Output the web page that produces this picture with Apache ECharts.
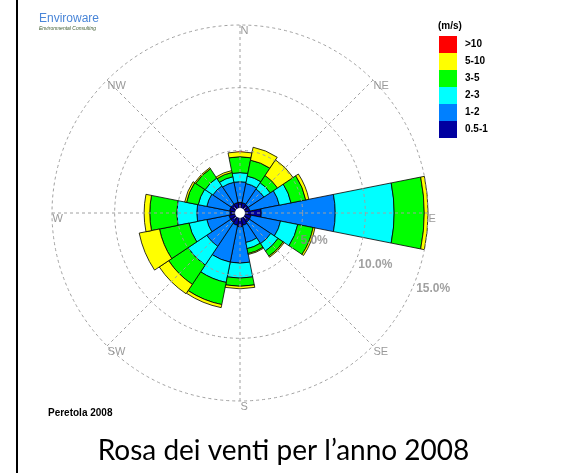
<!DOCTYPE html>
<html>
<head>
<meta charset="utf-8">
<script src="https://cdn.jsdelivr.net/npm/echarts@6/dist/echarts.min.js"></script>
<style>
html, body { margin: 0; padding: 0; background: #fff; }
#chart { width: 567px; height: 473px; }
#frame { position: absolute; left: 16px; top: 0; width: 2px; height: 473px; background: #000; }
</style>
</head>
<body>
<div id="chart"></div>
<div id="frame"></div>
<script>
// wind directions (clockwise from north) and speed classes
const directions = ['N','NNE','NE','ENE','E','ESE','SE','SSE','S','SSW','SW','WSW','W','WNW','NW','NNW'];
const compassLabels = ['N','NE','E','SE','S','SW','W','NW'];
const ringTicks = [5, 10, 15];
const speedClasses = ['0.5-1','1-2','2-3','3-5','5-10','>10'];

// frequency (%) per direction for each speed class
const speed05to1 = [0.85,0.84,0.80,0.80,1.70,0.90,0.90,1.00,1.10,1.00,0.90,0.90,0.80,0.85,0.85,0.85];
const speed1to2  = [1.65,1.56,1.50,2.40,5.90,2.40,2.05,1.40,2.90,3.00,2.30,1.80,2.65,1.85,1.75,1.65];
const speed2to3  = [0.72,0.60,0.60,0.95,4.70,1.40,0.70,0.50,1.20,1.65,1.80,1.45,1.60,0.70,0.75,0.45];
const speed3to5  = [1.27,1.30,0.70,1.20,2.40,1.25,0.50,0.40,0.65,1.80,1.85,2.40,2.15,0.95,0.90,0.35];
const speed5to10 = [0.40,1.05,1.50,0.25,0.30,0.15,0.10,0.08,0.20,0.25,0.90,1.65,0.45,0.15,0.10,0.15];
const speedOver10 = [0,0,0,0,0,0,0,0,0,0,0,0,0,0,0,0];

const classValues = [speed05to1, speed1to2, speed2to3, speed3to5, speed5to10, speedOver10];
const classColors = ['#0000a0','#0080ff','#00ffff','#00ff00','#ffff00','#ff0000'];

const grid = { color: '#a0a0a0', width: 1, type: [3, 3] };
const center = [240, 213];

const chart = echarts.init(document.getElementById('chart'));

const barSeries = speedClasses.map((name, i) => ({
  name: name,
  type: 'bar',
  coordinateSystem: 'polar',
  polarIndex: 0,
  stack: 'wind',
  barCategoryGap: '0%',
  data: classValues[i],
  itemStyle: { color: classColors[i], borderColor: '#000', borderWidth: i === 5 ? 0 : 0.8 },
  z: 2
}));

chart.setOption({
  animation: false,
  title: [
    { text: '(m/s)', left: 438, top: 21, padding: 0,
      textStyle: { fontSize: 10, fontWeight: 'bold', fontFamily: 'Arial', color: '#000' } },
    { text: 'Enviroware', subtext: 'Environmental Consulting', left: 39, top: 13, padding: 0, itemGap: 1,
      textStyle: { fontSize: 12, fontWeight: 'normal', fontFamily: 'Arial', color: '#4a86d8' },
      subtextStyle: { fontSize: 5, fontStyle: 'italic', fontFamily: 'Arial', color: '#3d5a2e' } },
    { text: 'Peretola 2008', left: 48, top: 408, padding: 0,
      textStyle: { fontSize: 10, fontWeight: 'bold', fontFamily: 'Arial', color: '#000' } },
    { text: 'Rosa dei venti per l\u2019anno 2008', left: 'center', top: 437, padding: 0,
      textStyle: { fontSize: 28, fontWeight: 'normal', fontFamily: 'Lato', color: '#000' } }
  ],
  legend: {
    data: speedClasses.slice().reverse(),
    orient: 'vertical',
    left: 439,
    top: 36,
    padding: 0,
    itemWidth: 18,
    itemHeight: 17,
    itemGap: 0,
    icon: 'rect',
    selectedMode: false,
    itemStyle: { borderWidth: 0 },
    textStyle: { fontSize: 10, fontWeight: 'bold', fontFamily: 'Arial', color: '#000', padding: [0, 0, 0, 3] }
  },
  polar: [
    { center: center, radius: 188 },
    { center: center, radius: 188 }
  ],
  angleAxis: [
    { polarIndex: 0, type: 'category', data: directions, startAngle: 101.25,
      axisLine: { show: false }, axisTick: { show: false }, axisLabel: { show: false },
      splitLine: { show: false } },
    { polarIndex: 1, type: 'value', min: 0, max: 360, interval: 45, startAngle: 90, z: 5,
      axisLine: { show: false }, axisTick: { show: false }, axisLabel: { show: false },
      splitLine: { show: true, lineStyle: grid } }
  ],
  radiusAxis: [
    { polarIndex: 0, min: 0, max: 15, interval: 5, z: 5,
      axisLine: { show: false }, axisTick: { show: false }, axisLabel: { show: false },
      splitLine: { show: true, lineStyle: grid } },
    { polarIndex: 1, min: 0, max: 15, show: false }
  ],
  series: barSeries.concat([
    { type: 'scatter', coordinateSystem: 'polar', polarIndex: 0, symbolSize: 1, silent: true, z: 6,
      itemStyle: { color: 'rgba(0,0,0,0)' },
      data: compassLabels.map(d => ({ name: d, value: [15, d] })),
      label: { show: true, formatter: '{b}', position: [1, 1], color: '#808080',
        fontSize: 11, fontFamily: 'Arial' } },
    { type: 'scatter', coordinateSystem: 'polar', polarIndex: 0, symbolSize: 1, silent: true, z: 6,
      itemStyle: { color: 'rgba(0,0,0,0)' },
      data: ringTicks.map(v => ({ name: v.toFixed(1) + '%', value: [v, 'ESE'] })),
      label: { show: true, formatter: '{b}', position: [3, -2], color: '#888',
        fontSize: 12, fontWeight: 'bold', fontFamily: 'Arial' } }
  ]),
  graphic: [
    { type: 'circle', shape: { cx: center[0], cy: center[1], r: 5 }, style: { fill: '#fff' }, z: 10 }
  ]
});
</script>
</body>
</html>
